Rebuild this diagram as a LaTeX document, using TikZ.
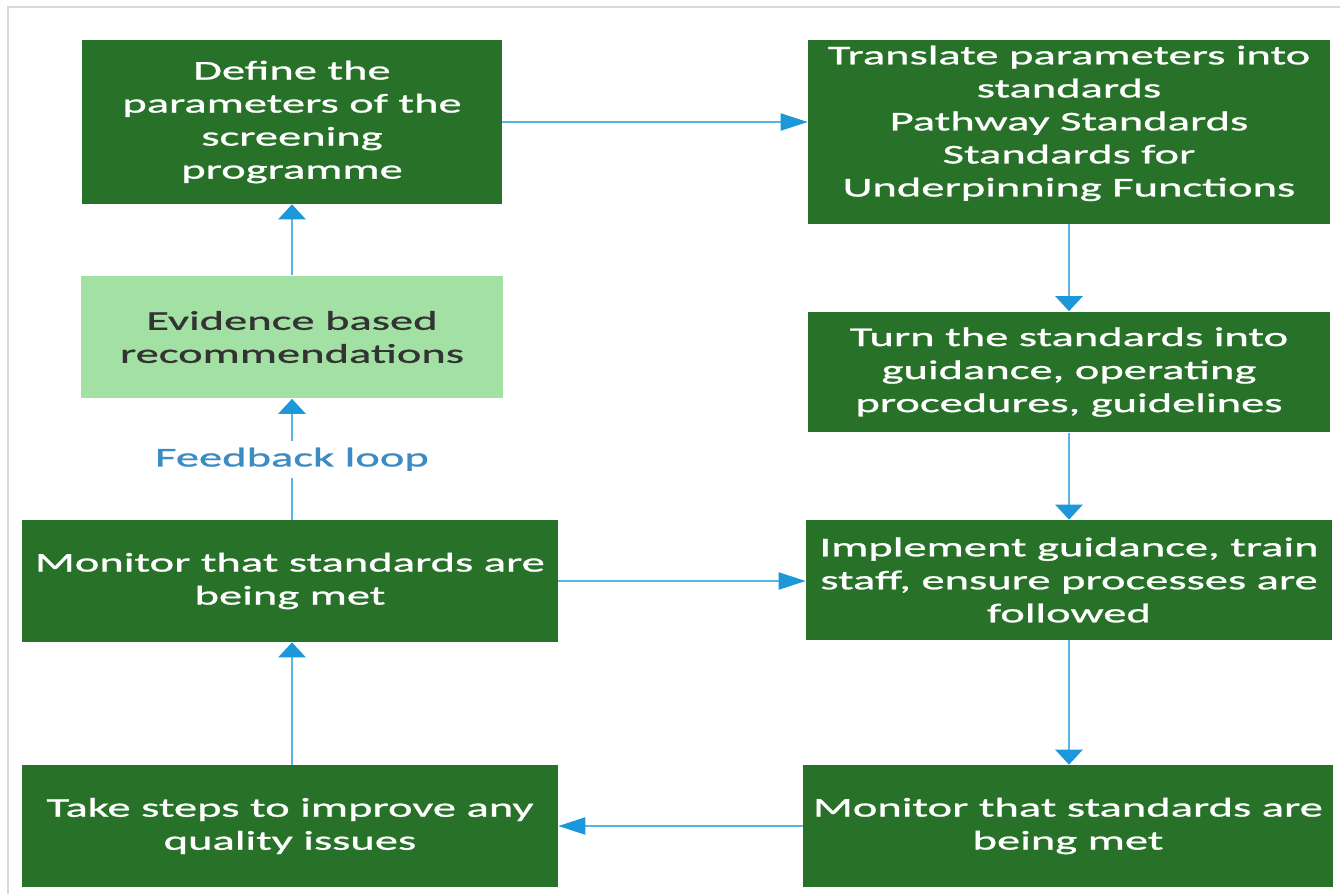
\documentclass[tikz,border=0pt]{standalone}
\usepackage{fontspec}
\setmainfont[FakeStretch=1.72, FakeBold=1]{Carlito}
\usetikzlibrary{arrows.meta}
\definecolor{boxgreen}{HTML}{277228}
\definecolor{palegreen}{HTML}{A3E0A3}
\definecolor{linkblue}{HTML}{5AB4E6}
\definecolor{tipblue}{HTML}{1C97DA}
\definecolor{loopblue}{HTML}{3B8CC2}
\definecolor{framegrey}{HTML}{D9D9D9}
\begin{document}
\begin{tikzpicture}[x=0.02cm, y=-0.02cm,
		every node/.style={rectangle, align=center, inner sep=0pt, font=\fontsize{15.4}{18.8}\selectfont},
		step box/.style={fill=boxgreen, text=white},
		evidence box/.style={fill=palegreen, text=black!80},
		vlink/.style={draw=linkblue, line width=1.6pt, -{Triangle[length=0.3cm, width=0.54cm, color=tipblue]}},
		hlink/.style={draw=linkblue, line width=1.2pt, -{Triangle[length=0.54cm, width=0.34cm, color=tipblue]}}]
			\useasboundingbox (0,0) rectangle (1340,894);
			\draw[framegrey, line width=1.2pt] (8,894) -- (8,7) -- (1340,7);
			\node[step box, minimum width=8.4cm, minimum height=3.28cm] (define) at (292,122) {Define the\\parameters of the\\screening\\programme};
			\node[step box, minimum width=10.44cm, minimum height=3.68cm, text depth=0.44cm] (translate) at (1069,132) {Translate parameters into\\standards\\Pathway Standards\\Standards for\\Underpinning Functions};
			\node[evidence box, minimum width=8.46cm, minimum height=2.46cm] (evidence) at (292,337) {Evidence based\\recommendations};
			\node[step box, minimum width=10.44cm, minimum height=2.42cm] (turn) at (1069,372) {Turn the standards into\\guidance, operating\\procedures, guidelines};
			\node[step box, minimum width=10.72cm, minimum height=2.44cm] (monitorl) at (290,581) {Monitor that standards are\\being met};
			\node[step box, minimum width=10.52cm, minimum height=2.4cm] (implement) at (1069,580) {Implement guidance, train\\staff, ensure processes are\\followed};
			\node[step box, minimum width=10.72cm, minimum height=2.44cm] (improve) at (290,826) {Take steps to improve any\\quality issues};
			\node[step box, minimum width=10.6cm, minimum height=2.44cm] (monitorr) at (1068,826) {Monitor that standards are\\being met};
			\draw[hlink] (define.east) -- (define.east -| translate.west);
			\draw[vlink] (translate.south) -- (turn.north);
			\draw[vlink] (turn.south) -- (implement.north);
			\draw[vlink] (implement.south) -- (implement.south |- monitorr.north);
			\draw[hlink] (monitorr.west) -- (improve.east);
			\draw[vlink] (evidence.south |- improve.north) -- (evidence.south |- monitorl.south);
			\draw[hlink] (monitorl.east) -- (monitorl.east -| implement.west);
			\draw[vlink] (evidence.south |- monitorl.north) -- node[fill=white, text=loopblue, inner sep=4pt] (loop) {Feedback loop} (evidence.south);
			\draw[vlink] (evidence.north) -- (define.south);
		\end{tikzpicture}
\end{document}
